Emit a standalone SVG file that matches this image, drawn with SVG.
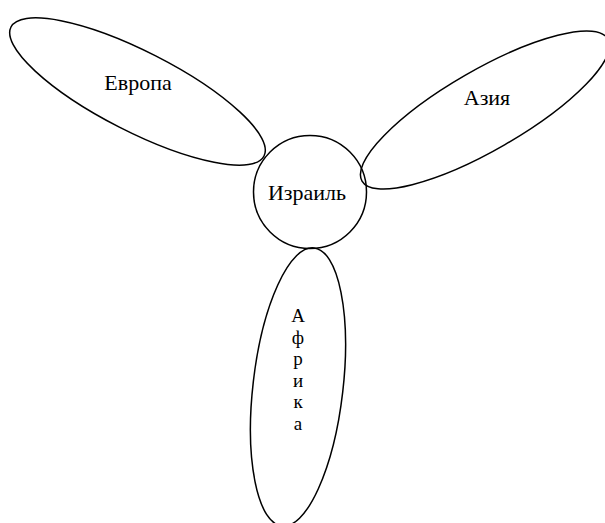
<svg xmlns="http://www.w3.org/2000/svg" width="605" height="523" viewBox="0 0 605 523">
<style>
.s{fill:none;stroke:#000;stroke-width:1.5}
.t{font-family:"Liberation Serif","Times New Roman",serif;font-size:22px;fill:#000;text-anchor:middle}
.v{font-size:19px}
</style>
<rect width="605" height="523" fill="#fff"/>
<g id="europa"><ellipse class="s" cx="137.5" cy="91.5" rx="142" ry="40" transform="rotate(27 137.5 91.5)"/><text class="t" x="138" y="90">Европа</text></g>
<g id="asia"><ellipse class="s" cx="485" cy="110" rx="142" ry="40" transform="rotate(-30 485 110)"/><text class="t" x="487" y="105">Азия</text></g>
<g id="africa"><ellipse class="s" cx="298" cy="387" rx="45" ry="140" transform="rotate(6.6 298 387)"/><text class="t v" x="298"><tspan x="298" y="322">А</tspan><tspan x="298" y="343.5">ф</tspan><tspan x="298" y="365">р</tspan><tspan x="298" y="386.5">и</tspan><tspan x="298" y="408">к</tspan><tspan x="298" y="429.5">а</tspan></text></g>
<g id="israel"><circle class="s" cx="310" cy="192" r="56.5"/><text class="t" x="307" y="200">Израиль</text></g>
<g id="connectors"/>
</svg>
